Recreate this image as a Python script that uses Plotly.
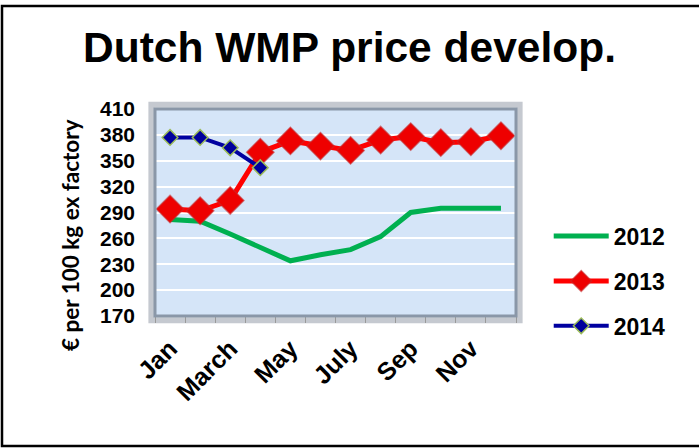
import plotly.graph_objects as go

months = ["Jan", "Feb", "March", "April", "May", "June", "July", "Aug", "Sep", "Oct", "Nov", "Dec"]
shown_labels = ["Jan", "March", "May", "July", "Sep", "Nov"]
y2012 = [282, 280, 265, 249, 234, 241, 247, 262, 290, 295, 295, 295]
y2013 = [294, 292, 304, 360, 373, 367, 362, 374, 378, 371, 372, 379]
y2014 = [377, 377, 365, 342]
yticks = [170, 200, 230, 260, 290, 320, 350, 380, 410]

xidx = list(range(len(months)))
shown_idx = [months.index(m) for m in shown_labels]

W, H = 699, 448
L, R, T, B = 155, 183, 109, 132
PW, PH = W - L - R, H - T - B


def px_x(p):
    return (p - L) / PW


def px_y(p):
    return (H - B - p) / PH


fig = go.Figure()
fig.add_trace(go.Scatter(
    x=xidx, y=y2012, name="<b>2012</b>", mode="lines",
    line=dict(color="#00b050", width=5), legendgroup="a"))
fig.add_trace(go.Scatter(
    x=xidx, y=y2013, name="<b>2013</b>", mode="lines+markers",
    line=dict(color="#ff0000", width=5),
    marker=dict(symbol="diamond", size=21, color="#ee0000",
                line=dict(color="rgba(200,40,40,0.6)", width=1.5)),
    legendgroup="b"))
fig.add_trace(go.Scatter(
    x=xidx[:len(y2014)], y=y2014, name="<b>2014</b>", mode="lines+markers",
    line=dict(color="#0000a0", width=4),
    marker=dict(symbol="diamond", size=12, color="#00009c",
                line=dict(color="#9bbb59", width=1.5)),
    legendgroup="c"))

font_family = "Liberation Sans, Arial, sans-serif"

fig.update_layout(
    width=W, height=H,
    margin=dict(l=L, r=R, t=T, b=B),
    paper_bgcolor="white",
    plot_bgcolor="#d5e5f8",
    font=dict(family=font_family, color="black"),
    title=dict(text="<b>Dutch WMP price develop.</b>", x=0.5, xanchor="center",
               y=1 - 47 / H, yanchor="middle", font=dict(size=42.5, family=font_family)),
    showlegend=True,
    legend=dict(xref="container", yref="container", x=0.785, y=0.521,
                xanchor="left", yanchor="top", font=dict(size=23),
                tracegroupgap=12, itemwidth=55, bgcolor="rgba(0,0,0,0)"),
    xaxis=dict(range=[-0.5, 11.5], tickvals=shown_idx,
               ticktext=["<b>%s</b>" % t for t in shown_labels],
               tickangle=-45, ticks="", showgrid=False, zeroline=False,
               tickfont=dict(size=25, family=font_family),
               ticklabelstandoff=12,
               showline=False,
               minor=dict(tick0=-0.5, dtick=1, ticks="outside", ticklen=6,
                          tickcolor="#999999", tickwidth=1, showgrid=False)),
    yaxis=dict(range=[170, 410], tickvals=yticks,
               ticktext=["<b>%d</b>" % v for v in yticks],
               showgrid=True,
               gridcolor="white", gridwidth=2, zeroline=False,
               tickfont=dict(size=21, family=font_family),
               ticklabelstandoff=19),
    annotations=[
        dict(text="<b>€ per 100 kg ex factory</b>", textangle=-90,
             xref="paper", yref="paper", x=px_x(70), y=px_y(235),
             xanchor="center", yanchor="middle", showarrow=False,
             font=dict(size=22.5, family="Lato, Carlito, sans-serif")),
    ],
    shapes=[
        dict(type="rect", xref="x domain", yref="y domain", x0=-0.01, x1=1.01,
             y0=-0.02, y1=1.02, line=dict(color="rgba(90,100,120,0.35)", width=6),
             layer="below", fillcolor="rgba(0,0,0,0)"),
        dict(type="rect", xref="x domain", yref="y domain", x0=0, x1=1,
             y0=0, y1=1, line=dict(color="#8a97a8", width=3), layer="above"),
        dict(type="rect", xref="paper", yref="paper",
             x0=px_x(2), x1=px_x(720),
             y0=px_y(446), y1=px_y(6),
             line=dict(color="black", width=2.5)),
    ],
)

fig.write_html("out.html", config={"displayModeBar": False},
               post_script="document.body.style.margin='0';")
